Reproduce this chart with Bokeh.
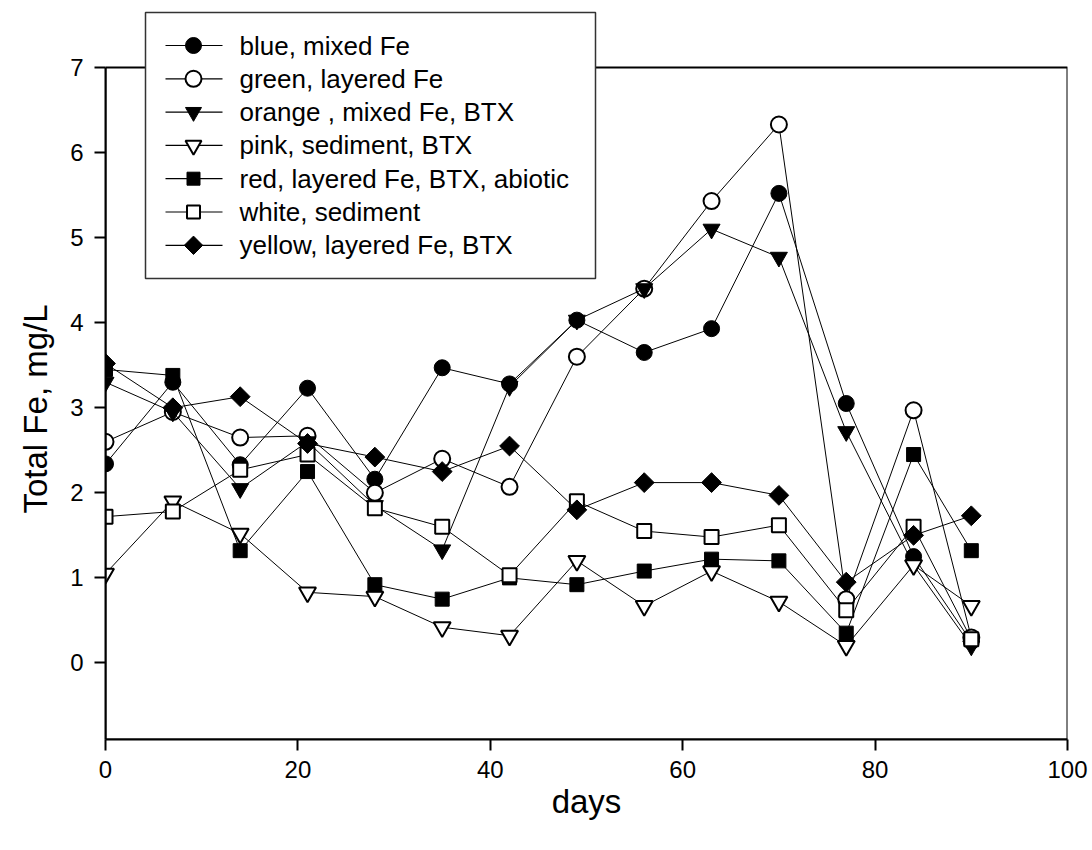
import math
from bokeh.plotting import figure
from bokeh.models import FixedTicker, Range1d, BoxAnnotation, Title
from bokeh.core.properties import value
from bokeh.embed import file_html
from bokeh.resources import INLINE

days = [0, 7, 14, 21, 28, 35, 42, 49, 56, 63, 70, 77, 84, 90]

blue_mixed_fe = [2.34, 3.30, 2.33, 3.23, 2.16, 3.47, 3.28, 4.03, 3.65, 3.93, 5.52, 3.05, 1.25, 0.25]
green_layered_fe = [2.60, 2.95, 2.65, 2.67, 2.00, 2.40, 2.07, 3.60, 4.40, 5.43, 6.33, 0.75, 2.97, 0.30]
orange_mixed_fe_btx = [3.30, 2.95, 2.05, 2.60, 1.85, 1.33, 3.25, 4.03, 4.40, 5.10, 4.77, 2.72, 1.15, 0.20]
pink_sediment_btx = [1.05, 1.90, 1.52, 0.83, 0.78, 0.42, 0.32, 1.20, 0.67, 1.08, 0.72, 0.20, 1.15, 0.67]
red_layered_fe_btx_abiotic = [3.45, 3.38, 1.32, 2.25, 0.92, 0.75, 1.00, 0.92, 1.08, 1.22, 1.20, 0.35, 2.45, 1.32]
white_sediment = [1.72, 1.78, 2.27, 2.45, 1.82, 1.60, 1.03, 1.90, 1.55, 1.48, 1.62, 0.62, 1.60, 0.28]
yellow_layered_fe_btx = [3.52, 3.00, 3.13, 2.58, 2.42, 2.25, 2.55, 1.80, 2.12, 2.12, 1.97, 0.95, 1.50, 1.73]

labels = ["blue, mixed Fe", "green, layered Fe", "orange , mixed Fe, BTX",
          "pink, sediment, BTX", "red, layered Fe, BTX, abiotic",
          "white, sediment", "yellow, layered Fe, BTX"]
series = [blue_mixed_fe, green_layered_fe, orange_mixed_fe_btx, pink_sediment_btx,
          red_layered_fe_btx_abiotic, white_sediment, yellow_layered_fe_btx]
markers = ["circle", "circle", "inverted_triangle", "inverted_triangle", "square", "square", "square"]
angles = [0, 0, 0, 0, 0, 0, math.pi / 4]
filled = [True, False, True, False, True, False, True]
sizes = [16, 16, 17, 17, 14, 14, 14]

x_ticks = [0, 20, 40, 60, 80, 100]
y_ticks = [0, 1, 2, 3, 4, 5, 6, 7]
Y_MIN, Y_MAX = -0.9, 7.0

FONT = "Liberation Sans"

# frame extends above y=7 so the legend may overlap the plot's top border
FRAME_W, FRAME_H = 962, 728
PX_PER_UNIT = 672 / (Y_MAX - Y_MIN)
y_top = Y_MAX + (FRAME_H - 672) / PX_PER_UNIT

p = figure(frame_width=FRAME_W, frame_height=FRAME_H, x_range=(0, 100), y_range=(Y_MIN, y_top),
           output_backend="svg", toolbar_location=None,
           min_border_left=105, min_border_right=25, min_border_top=11, min_border_bottom=111)
p.background_fill_color = "white"
p.border_fill_color = "white"
p.xgrid.visible = False
p.ygrid.visible = False
p.outline_line_color = None

for ax in (p.xaxis[0], p.yaxis[0]):
    ax.axis_line_width = 2
    ax.axis_line_color = "black"
    ax.major_tick_line_width = 2
    ax.major_tick_out = 11
    ax.major_tick_in = 0
    ax.minor_tick_line_color = None
    ax.major_label_text_font = FONT
    ax.major_label_text_font_size = "24px"
    ax.major_label_text_color = "black"
    ax.axis_label_text_font = FONT
    ax.axis_label_text_font_size = "33px"
    ax.axis_label_text_font_style = "normal"
    ax.axis_label_text_color = "black"

p.xaxis.ticker = FixedTicker(ticks=x_ticks)
p.yaxis.ticker = FixedTicker(ticks=y_ticks)
p.yaxis.bounds = (Y_MIN, Y_MAX)
p.xaxis.axis_label = "days"
p.xaxis.major_label_standoff = 10
p.yaxis.major_label_standoff = 11
p.xaxis.axis_label_standoff = 2

# y-axis title, centred on the visible axis (-0.9 .. 7), not on the taller frame
ytitle = Title(text="Total Fe, mg/L", align="left", offset=226, vertical_align="middle",
               text_font=FONT, text_font_size="33px", text_font_style="normal",
               text_color="black", standoff=26)
p.add_layout(ytitle, "left")

# plot box (top and right borders)
p.add_layout(BoxAnnotation(left=0, right=100, bottom=Y_MIN, top=Y_MAX,
                           fill_color=None, fill_alpha=0, line_color="black",
                           line_alpha=1.0, line_width=2))

for ys, mk, ang, fl, sz in zip(series, markers, angles, filled, sizes):
    p.line(days, ys, line_color="black", line_width=1)
    p.scatter(days, ys, marker=mk, size=sz, angle=ang,
              fill_color="black" if fl else "white",
              line_color="black", line_width=2 if not fl else 1)

# ---- legend, drawn in pixel-like extra ranges over the frame ----
p.extra_x_ranges = {"lx": Range1d(0, FRAME_W)}
p.extra_y_ranges = {"ly": Range1d(0, FRAME_H)}
frame_bottom_screen = 11 + FRAME_H


def ly(screen_y):
    return frame_bottom_screen - screen_y


def lx(screen_x):
    return screen_x - 105


box_l, box_r, box_t, box_b = 145, 595, 12, 278
p.quad(left=[lx(box_l)], right=[lx(box_r)], top=[ly(box_t)], bottom=[ly(box_b)],
       fill_color="white", line_color="#333333", line_width=1.5,
       x_range_name="lx", y_range_name="ly", level="overlay")

row0, row_step = 45, 33.3
line_x0, line_x1, mark_x, text_x = 165, 222, 193, 239
for i, (lab, mk, ang, fl) in enumerate(zip(labels, markers, angles, filled)):
    yy = ly(row0 + row_step * i)
    p.line([lx(line_x0), lx(line_x1)], [yy, yy], line_color="black", line_width=1.2,
           x_range_name="lx", y_range_name="ly", level="overlay")
    p.scatter([lx(mark_x)], [yy], marker=mk, angle=ang,
              size=(13 if mk == "square" else 16),
              fill_color="black" if fl else "white", line_color="black",
              line_width=2 if not fl else 1,
              x_range_name="lx", y_range_name="ly", level="overlay")
    p.text([lx(text_x)], [yy], text=[lab], text_font=value(FONT), text_font_size="26px",
           text_baseline="middle", text_align="left", text_color="black",
           x_range_name="lx", y_range_name="ly", level="overlay")

open("out.html", "w").write(file_html(p, INLINE))
